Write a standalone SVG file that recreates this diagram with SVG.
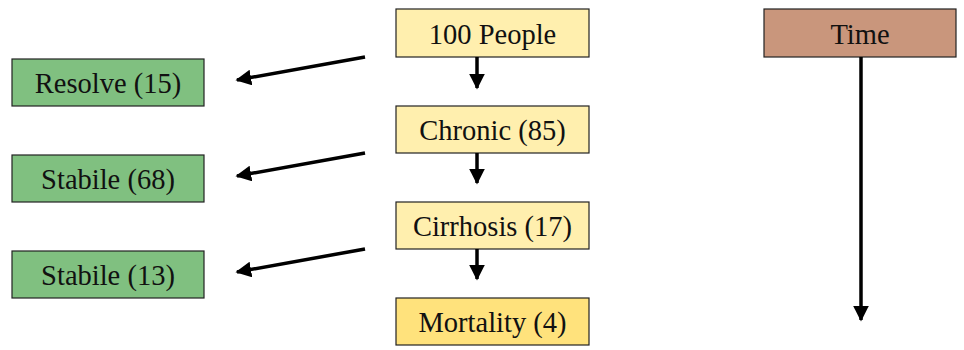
<svg xmlns="http://www.w3.org/2000/svg" width="964" height="350" viewBox="0 0 964 350">
<style>
.box{stroke:#222;stroke-width:1.2}
.g{fill:#80C080}
.y{fill:#FFEFAE}
.m{fill:#FFE27C}
.t{fill:#C9967C}
text{font-family:"Liberation Serif",serif;font-size:28.5px;fill:#111;text-anchor:middle;dominant-baseline:central}
.c{stroke:#000;stroke-width:3.5;fill:none}
</style>
<defs>
<marker id="ah" viewBox="0 0 10 10" refX="9" refY="5" markerWidth="4.5" markerHeight="4.5" markerUnits="strokeWidth" orient="auto">
<path d="M0,0 L10,5 L0,10 z" fill="#000"/>
</marker>
</defs>
<rect width="964" height="350" fill="#fff"/>
<g id="n-people"><rect class="box y" x="396" y="9" width="193" height="48"/><text x="492.5" y="34">100 People</text></g>
<g id="n-chronic"><rect class="box y" x="396" y="106" width="193" height="47"/><text x="492.5" y="130">Chronic (85)</text></g>
<g id="n-cirrhosis"><rect class="box y" x="396" y="202" width="193" height="47"/><text x="492.5" y="226">Cirrhosis (17)</text></g>
<g id="n-mortality"><rect class="box m" x="396" y="298" width="193" height="47"/><text x="492.5" y="322">Mortality (4)</text></g>
<g id="n-resolve"><rect class="box g" x="12" y="59" width="192" height="47"/><text x="108" y="83">Resolve (15)</text></g>
<g id="n-stabile68"><rect class="box g" x="12" y="155" width="192" height="47"/><text x="108" y="179">Stabile (68)</text></g>
<g id="n-stabile13"><rect class="box g" x="12" y="251" width="192" height="47"/><text x="108" y="275">Stabile (13)</text></g>
<g id="n-time"><rect class="box t" x="764" y="9" width="192" height="48"/><text x="860" y="34">Time</text></g>
<g id="connectors">
<line class="c" x1="477" y1="57" x2="477" y2="88" marker-end="url(#ah)"/>
<line class="c" x1="477" y1="153" x2="477" y2="183" marker-end="url(#ah)"/>
<line class="c" x1="477" y1="249" x2="477" y2="279" marker-end="url(#ah)"/>
<line class="c" x1="365" y1="57" x2="237" y2="80" marker-end="url(#ah)"/>
<line class="c" x1="365" y1="153" x2="237" y2="176" marker-end="url(#ah)"/>
<line class="c" x1="365" y1="249" x2="237" y2="272" marker-end="url(#ah)"/>
<line class="c" x1="861" y1="57" x2="861" y2="320" marker-end="url(#ah)"/>
</g>
</svg>
